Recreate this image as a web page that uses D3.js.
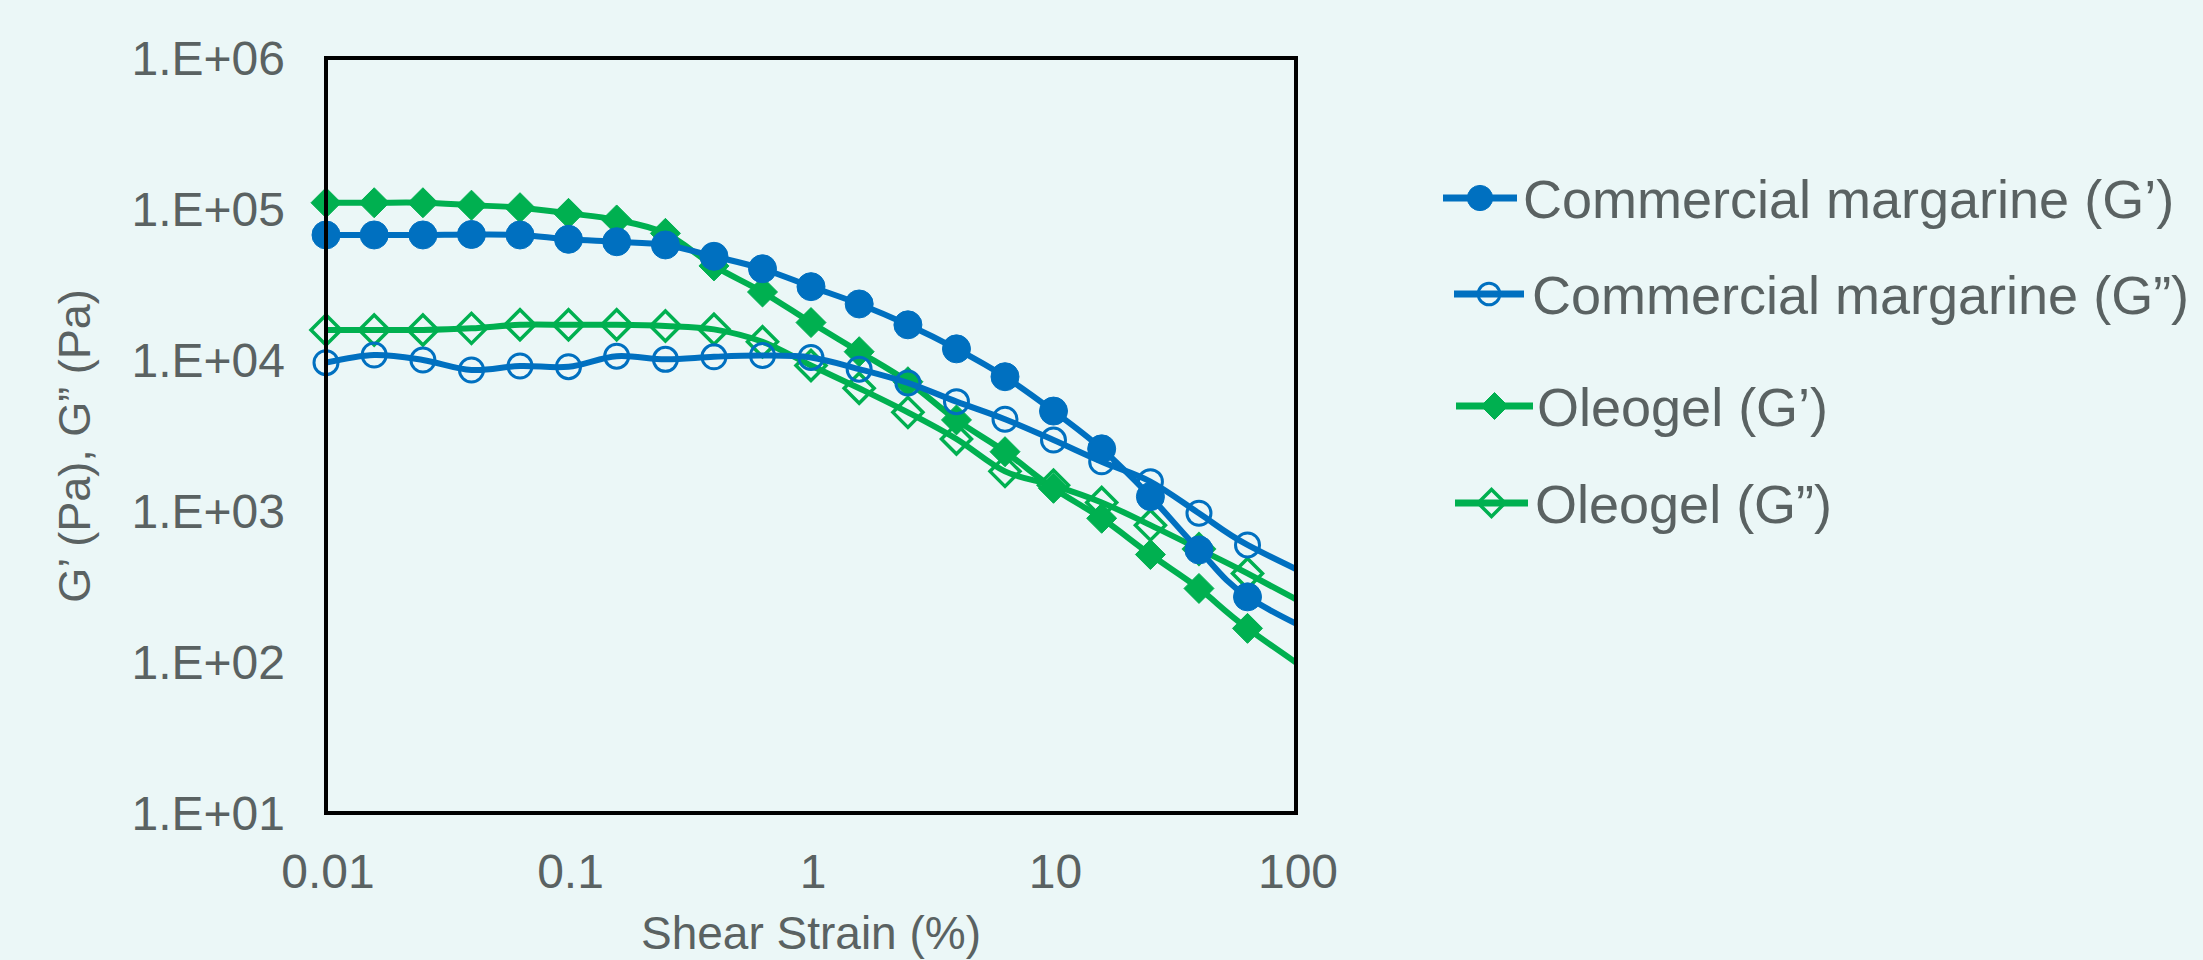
<!DOCTYPE html>
<html><head><meta charset="utf-8">
<script src="https://cdn.jsdelivr.net/npm/d3@7"></script>
<style>
html,body{margin:0;padding:0;background:#ebf7f7;}
svg{display:block;font-family:"Liberation Sans",Arial,sans-serif;}
</style></head>
<body>
<script>
// ---- data ----
const strain = [0.01, 0.0158, 0.0251, 0.0398, 0.0631, 0.1, 0.158, 0.251, 0.398, 0.631,
                1, 1.58, 2.51, 3.98, 6.31, 10, 15.8, 25.1, 39.8, 63.1, 158];
const marginGp = [67300, 67300, 67300, 67800, 67300, 63000, 60700, 57800, 48600, 40200,
                  30600, 23500, 17100, 11850, 7750, 4590, 2580, 1245, 552, 270, 126];
const marginGpp = [9600, 10800, 10000, 8590, 9120, 9030, 10600, 10100, 10500, 10700,
                   10400, 8700, 7050, 5300, 4050, 2950, 2120, 1565, 966, 596, 292];
const oleoGp = [110000, 110000, 110000, 106000, 102000, 93600, 84600, 69000, 42000, 28200,
                17700, 11350, 7180, 4010, 2470, 1413, 895, 515, 307, 167, 60];
const oleoGpp = [15800, 15800, 15800, 16200, 17100, 17100, 17100, 16800, 15960, 13200,
                 9200, 6500, 4500, 3000, 1830, 1480, 1140, 806, 560, 386, 175];
const seriesNames = ["Commercial margarine (G\u2019)", "Commercial margarine (G\u201D)",
                     "Oleogel (G\u2019)", "Oleogel (G\u201D)"];
const xTicks = [0.01, 0.1, 1, 10, 100];
const xTickLabels = ["0.01", "0.1", "1", "10", "100"];
const yTicks = [10, 100, 1000, 10000, 100000, 1000000];
const yTickLabels = ["1.E+01", "1.E+02", "1.E+03", "1.E+04", "1.E+05", "1.E+06"];
const xTitle = "Shear Strain (%)";
const yTitle = "G\u2019 (Pa), G\u201D (Pa)";

// ---- layout ----
const W = 2203, H = 960;
const L = 326, R = 1296, T = 58, B = 813;
const blue = "#0070c0", green = "#00b050", textCol = "#5a6262";

const svg = d3.select("body").append("svg").attr("width", W).attr("height", H);
svg.append("rect").attr("width", W).attr("height", H).attr("fill", "#ebf7f7");

const x = d3.scaleLog().domain([0.01, 100]).range([L, R]);
const y = d3.scaleLog().domain([10, 1e6]).range([B, T]);

svg.append("defs").append("clipPath").attr("id", "clip")
  .append("rect").attr("x", L).attr("y", T).attr("width", R - L).attr("height", B - T);

const series = [
  {name: seriesNames[0], vals: marginGp, color: blue, shape: "circle", filled: true},
  {name: seriesNames[1], vals: marginGpp, color: blue, shape: "circle", filled: false},
  {name: seriesNames[2], vals: oleoGp, color: green, shape: "diamond", filled: true},
  {name: seriesNames[3], vals: oleoGpp, color: green, shape: "diamond", filled: false}
];

function drawMarker(g, s, cx, cy, scale) {
  scale = scale || 1;
  if (s.shape === "circle") {
    const r = (s.filled ? 14 : 12) * scale;
    g.append("circle").attr("cx", cx).attr("cy", cy).attr("r", r)
      .attr("fill", s.filled ? s.color : "none")
      .attr("stroke", s.color).attr("stroke-width", s.filled ? 1 : 3);
  } else {
    const r = 15 * scale;
    g.append("path").attr("d", `M${cx},${cy - r}L${cx + r},${cy}L${cx},${cy + r}L${cx - r},${cy}Z`)
      .attr("fill", s.filled ? s.color : "none")
      .attr("stroke", s.color).attr("stroke-width", s.filled ? 1 : 3.5)
      .attr("stroke-linejoin", "miter");
  }
}

const line = d3.line()
  .x(d => x(d[0])).y(d => y(d[1]))
  .curve(d3.curveCatmullRom.alpha(0));

// draw order: green below, blue on top
const drawOrder = [3, 2, 1, 0];
drawOrder.forEach(i => {
  const s = series[i];
  const pts = strain.map((v, k) => [v, s.vals[k]]);
  const g = svg.append("g");
  g.append("path").attr("d", line(pts)).attr("fill", "none")
    .attr("stroke", s.color).attr("stroke-width", 6).attr("clip-path", "url(#clip)");
  pts.filter(p => p[0] <= 100).forEach(p => drawMarker(g, s, x(p[0]), y(p[1])));
});

// frame
svg.append("rect").attr("x", L).attr("y", T).attr("width", R - L).attr("height", B - T)
  .attr("fill", "none").attr("stroke", "#000").attr("stroke-width", 4);

// y tick labels
yTicks.forEach((t, i) => {
  svg.append("text").attr("x", 285).attr("y", y(t) + 17)
    .attr("text-anchor", "end").attr("font-size", 48).attr("fill", textCol)
    .text(yTickLabels[i]);
});
// x tick labels
xTicks.forEach((t, i) => {
  svg.append("text").attr("x", x(t) + 2).attr("y", 888)
    .attr("text-anchor", "middle").attr("font-size", 48).attr("fill", textCol)
    .text(xTickLabels[i]);
});
// axis titles
svg.append("text").attr("x", (L + R) / 2).attr("y", 949)
  .attr("text-anchor", "middle").attr("font-size", 46).attr("fill", textCol).text(xTitle);
svg.append("text").attr("transform", `translate(90,446) rotate(-90)`)
  .attr("text-anchor", "middle").attr("font-size", 45).attr("fill", textCol).text(yTitle);

// legend
const legRows = [
  {y: 198, x1: 1443, x2: 1517, tx: 1523},
  {y: 294, x1: 1454, x2: 1524, tx: 1532},
  {y: 406, x1: 1456, x2: 1533, tx: 1537},
  {y: 503, x1: 1455, x2: 1528, tx: 1535}
];
series.forEach((s, i) => {
  const r = legRows[i];
  const g = svg.append("g");
  g.append("line").attr("x1", r.x1).attr("x2", r.x2).attr("y1", r.y).attr("y2", r.y)
    .attr("stroke", s.color).attr("stroke-width", 7);
  drawMarker(g, s, (r.x1 + r.x2) / 2, r.y, 0.9);
  g.append("text").attr("x", r.tx).attr("y", r.y + 20).attr("font-size", 54)
    .attr("fill", textCol).text(s.name);
});
</script>
</body></html>
